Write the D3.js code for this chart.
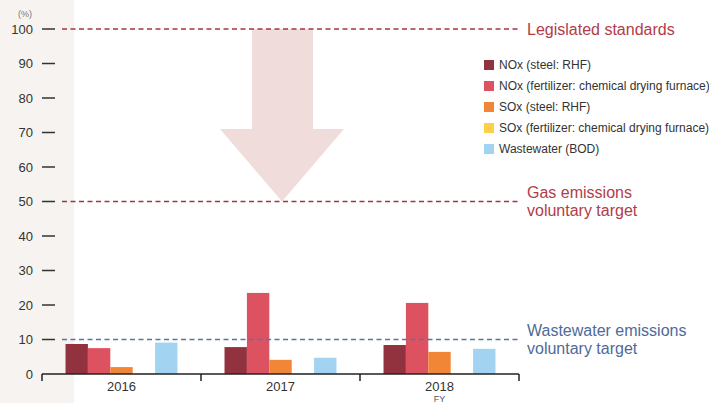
<!DOCTYPE html>
<html>
<head>
<meta charset="utf-8">
<script src="https://cdn.jsdelivr.net/npm/d3@7"></script>
<style>
  body { margin: 0; background: #fff; }
  svg { display: block; font-family: "Liberation Sans", Arial, sans-serif; }
</style>
</head>
<body>
<div class="chart"></div>
<script>
const years = ["2016", "2017", "2018"];
const seriesNames = [
  "NOx (steel: RHF)",
  "NOx (fertilizer: chemical drying furnace)",
  "SOx (steel: RHF)",
  "SOx (fertilizer: chemical drying furnace)",
  "Wastewater (BOD)"
];
const seriesColors = ["#93323f", "#dc5260", "#f08636", "#fdd04a", "#a2d4f2"];
// values by series, one per year
const noxSteel = [8.7, 7.8, 8.4];
const noxFert = [7.5, 23.5, 20.6];
const soxSteel = [2.0, 4.1, 6.4];
const soxFert = [0.2, 0.2, 0.2];
const wastewater = [9.1, 4.7, 7.3];
const yTicks = [0, 10, 20, 30, 40, 50, 60, 70, 80, 90, 100];

const series = [noxSteel, noxFert, soxSteel, soxFert, wastewater];

const width = 709, height = 403;
const svg = d3.select(".chart").append("svg")
  .attr("width", width)
  .attr("height", height);

// beige side panel
svg.append("rect")
  .attr("x", 0).attr("y", 0)
  .attr("width", 74).attr("height", height)
  .attr("fill", "#f6f3f0");

const x = d3.scaleBand().domain(years).range([42, 519]).paddingInner(0).paddingOuter(0);
const inner = d3.scaleBand().domain(d3.range(series.length))
  .range([0, x.bandwidth()]).paddingOuter(1.05).paddingInner(0);
const y = d3.scaleLinear().domain([0, 100]).range([374, 29]);

// arrow from legislated standard down to gas target
const ax = 282;
const arrow = [
  [ax - 30, y(100)], [ax + 31, y(100)], [ax + 31, y(71)],
  [ax + 62, y(71)], [ax, y(50)], [ax - 62, y(71)], [ax - 30, y(71)]
];
svg.append("path")
  .attr("d", d3.line()(arrow) + "Z")
  .attr("fill", "#efdcdb");

// y axis ticks
const yg = svg.append("g");
yg.selectAll("line.tick").data(yTicks.filter(d => d > 0)).join("line")
  .attr("x1", 42).attr("x2", 55)
  .attr("y1", d => y(d)).attr("y2", d => y(d))
  .attr("stroke", "#333").attr("stroke-width", 1.5);
yg.selectAll("text").data(yTicks).join("text")
  .attr("x", 33).attr("y", d => y(d))
  .attr("dy", "0.35em")
  .attr("text-anchor", "end")
  .attr("font-size", 13)
  .attr("fill", "#333")
  .text(d => d);
svg.append("text")
  .attr("x", 25).attr("y", 17)
  .attr("text-anchor", "middle")
  .attr("font-size", 9)
  .attr("fill", "#777")
  .text("(%)");

// bars
const groups = svg.append("g").selectAll("g").data(years).join("g")
  .attr("transform", d => "translate(" + x(d) + ",0)");
groups.selectAll("rect")
  .data((d, i) => series.map((s, k) => ({k: k, v: s[i]})))
  .join("rect")
  .attr("x", d => inner(d.k))
  .attr("width", inner.bandwidth())
  .attr("y", d => y(d.v))
  .attr("height", d => y(0) - y(d.v))
  .attr("fill", d => seriesColors[d.k]);

// reference lines
const refs = [
  {v: 100, color: "#a3343f", text: ["Legislated standards"], tc: "#b23c48"},
  {v: 50, color: "#a3343f", text: ["Gas emissions", "voluntary target"], tc: "#b23c48"},
  {v: 10, color: "#5a73a0", text: ["Wastewater emissions", "voluntary target"], tc: "#4f6a9a"}
];
refs.forEach(r => {
  svg.append("line")
    .attr("x1", 62).attr("x2", 520)
    .attr("y1", y(r.v)).attr("y2", y(r.v))
    .attr("stroke", r.color)
    .attr("stroke-width", 1.3)
    .attr("stroke-dasharray", "5,3.5");
  const t = svg.append("text")
    .attr("x", 527)
    .attr("y", y(r.v) + (r.text.length > 1 ? -9 : 0))
    .attr("font-size", 16)
    .attr("fill", r.tc);
  r.text.forEach((line, i) => {
    t.append("tspan")
      .attr("x", 527)
      .attr("dy", i === 0 ? "0.35em" : "18")
      .text(line);
  });
});

// x axis
const xa = svg.append("g");
xa.append("line")
  .attr("x1", 42).attr("x2", 519)
  .attr("y1", y(0)).attr("y2", y(0))
  .attr("stroke", "#222").attr("stroke-width", 1.5);
xa.selectAll("line.tk").data([42, 201, 360, 519]).join("line")
  .attr("class", "tk")
  .attr("x1", d => d).attr("x2", d => d)
  .attr("y1", y(0)).attr("y2", y(0) + 7)
  .attr("stroke", "#222").attr("stroke-width", 1.5);
xa.selectAll("text.yr").data(years).join("text")
  .attr("class", "yr")
  .attr("x", d => x(d) + x.bandwidth() / 2)
  .attr("y", 391)
  .attr("text-anchor", "middle")
  .attr("font-size", 13)
  .attr("fill", "#333")
  .text(d => d);
svg.append("text")
  .attr("x", x("2018") + x.bandwidth() / 2)
  .attr("y", 402)
  .attr("text-anchor", "middle")
  .attr("font-size", 9)
  .attr("fill", "#555")
  .text("FY");

// legend
const legend = svg.append("g").attr("transform", "translate(484,60)");
const li = legend.selectAll("g").data(seriesNames).join("g")
  .attr("transform", (d, i) => "translate(0," + i * 21 + ")");
li.append("rect")
  .attr("width", 10).attr("height", 10)
  .attr("fill", (d, i) => seriesColors[i]);
li.append("text")
  .attr("x", 15).attr("y", 5)
  .attr("dy", "0.35em")
  .attr("font-size", 12)
  .attr("fill", "#333")
  .text(d => d);
</script>
</body>
</html>
